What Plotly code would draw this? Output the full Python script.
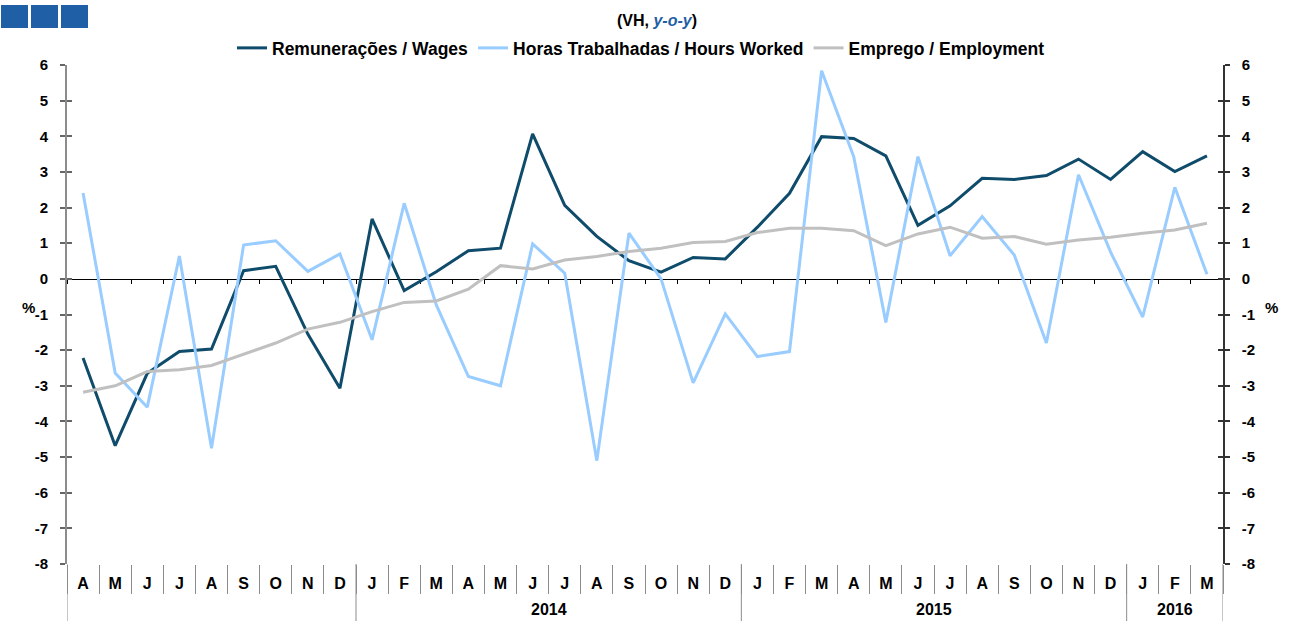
import plotly.graph_objects as go

months = ["A", "M", "J", "J", "A", "S", "O", "N", "D",
          "J", "F", "M", "A", "M", "J", "J", "A", "S", "O", "N", "D",
          "J", "F", "M", "A", "M", "J", "J", "A", "S", "O", "N", "D",
          "J", "F", "M"]
years = [2013] * 9 + [2014] * 12 + [2015] * 12 + [2016] * 3
year_labels = {2014: "2014", 2015: "2015", 2016: "2016"}

wages = [-2.22, -4.68, -2.65, -2.04, -1.97, 0.23, 0.35, -1.55, -3.07,
         1.68, -0.33, 0.20, 0.79, 0.86, 4.07, 2.06, 1.19, 0.51, 0.19, 0.60, 0.56,
         1.45, 2.40, 3.99, 3.94, 3.45, 1.50, 2.05, 2.82, 2.79, 2.90, 3.36, 2.79,
         3.57, 3.01, 3.45]
hours = [2.41, -2.64, -3.60, 0.64, -4.75, 0.95, 1.07, 0.21, 0.70,
         -1.71, 2.12, -0.73, -2.74, -3.00, 0.98, 0.16, -5.10, 1.28, 0.00, -2.92, -0.98,
         -2.18, -2.04, 5.84, 3.43, -1.22, 3.43, 0.65, 1.75, 0.67, -1.80, 2.92, 0.75,
         -1.07, 2.57, 0.13]
employment = [-3.18, -3.00, -2.60, -2.55, -2.43, -2.12, -1.80, -1.41, -1.22,
              -0.92, -0.66, -0.62, -0.29, 0.37, 0.28, 0.53, 0.63, 0.77, 0.86, 1.02, 1.05,
              1.30, 1.42, 1.42, 1.35, 0.93, 1.26, 1.45, 1.14, 1.19, 0.97, 1.09, 1.17,
              1.28, 1.37, 1.56]

y_ticks = [-8, -7, -6, -5, -4, -3, -2, -1, 0, 1, 2, 3, 4, 5, 6]
y_ticktext = ["-8", "-7", "-6", "-5", "-4", "-3", "-2", "-1", "0", "1", "2", "3", "4", "5", "6"]

series_names = ["Remunerações / Wages", "Horas Trabalhadas / Hours Worked", "Emprego / Employment"]
series_colors = ["#0F4C6B", "#99CCFF", "#C0C0C0"]

W, H = 1294, 621
L, R, T, B = 67, 71, 65, 57
PW, PH = W - L - R, H - T - B
YMIN, YMAX = -8, 6

FONT = "Liberation Sans, Arial, sans-serif"

def px_x(px):
    return (px - L) / PW

def px_y(py):
    return (H - B - py) / PH

n = len(months)
idx = list(range(n))
bounds = [i - 0.5 for i in range(n + 1)]

fig = go.Figure()
for name, vals, col in zip(series_names, [wages, hours, employment], series_colors):
    fig.add_trace(go.Scatter(x=idx, y=vals, name=name, mode="lines",
                             line=dict(color=col, width=3)))

xr = [-0.5, n - 0.5]
ytickfont = dict(family=FONT, size=15, color="#000000", weight="bold")
xtickfont = dict(family=FONT, size=16, color="#000000", weight="bold")

fig.update_layout(
    width=W, height=H,
    margin=dict(l=L, r=R, t=T, b=B, autoexpand=False),
    plot_bgcolor="white", paper_bgcolor="white",
    font=dict(family=FONT, size=14, color="#000000"),
    showlegend=True,
    legend=dict(orientation="h", x=px_x(641), xanchor="center", y=px_y(48), yanchor="middle",
                font=dict(family=FONT, size=17.5, color="#000000", weight="bold"),
                itemwidth=30, tracegroupgap=0, bgcolor="rgba(0,0,0,0)"),
    xaxis=dict(range=xr, tickmode="array", tickvals=idx, ticktext=months,
               ticks="", showline=False, showgrid=False, zeroline=False,
               tickfont=xtickfont, ticklabelstandoff=8, automargin=False),
    xaxis2=dict(range=xr, overlaying="x", anchor="free",
                position=(0 - YMIN) / (YMAX - YMIN),
                tickmode="array", tickvals=bounds, showticklabels=False,
                ticks="outside", ticklen=4, tickcolor="#000000", tickwidth=1,
                showline=True, linecolor="#000000", linewidth=1,
                showgrid=False, zeroline=False, layer="below traces"),
    xaxis3=dict(range=xr, overlaying="x", anchor="y", side="bottom",
                tickmode="array", tickvals=bounds, showticklabels=False,
                ticks="outside", ticklen=29, tickcolor="#8C8C8C", tickwidth=1,
                showline=False, showgrid=False, zeroline=False),
    yaxis=dict(range=[YMIN, YMAX], tickmode="array", tickvals=y_ticks, ticktext=y_ticktext,
               showgrid=False, zeroline=False,
               showline=True, linecolor="#8C8C8C", linewidth=2,
               ticks="outside", ticklen=5, tickcolor="#666666", tickwidth=2,
               tickfont=ytickfont, ticklabelstandoff=9, automargin=False),
    yaxis2=dict(range=[YMIN, YMAX], tickmode="array", tickvals=y_ticks, ticktext=y_ticktext,
                overlaying="y", side="right",
                showgrid=False, zeroline=False,
                showline=True, linecolor="#333333", linewidth=1.5,
                ticks="outside", ticklen=5, tickcolor="#333333", tickwidth=2,
                tickfont=ytickfont, ticklabelstandoff=9, automargin=False),
    yaxis3=dict(range=[YMIN, YMAX], tickmode="array", tickvals=y_ticks, overlaying="y", side="left",
                showgrid=False, zeroline=False, showline=False, showticklabels=False,
                ticks="inside", ticklen=5, tickcolor="#666666", tickwidth=2),
    yaxis4=dict(range=[YMIN, YMAX], tickmode="array", tickvals=y_ticks, overlaying="y", side="right",
                showgrid=False, zeroline=False, showline=False, showticklabels=False,
                ticks="inside", ticklen=5, tickcolor="#333333", tickwidth=2),
)

# invisible traces to activate overlay axes
fig.add_trace(go.Scatter(x=[None], y=[None], xaxis="x2", showlegend=False, hoverinfo="skip"))
fig.add_trace(go.Scatter(x=[None], y=[None], xaxis="x3", showlegend=False, hoverinfo="skip"))
fig.add_trace(go.Scatter(x=[None], y=[None], yaxis="y2", showlegend=False, hoverinfo="skip"))
fig.add_trace(go.Scatter(x=[None], y=[None], yaxis="y3", showlegend=False, hoverinfo="skip"))
fig.add_trace(go.Scatter(x=[None], y=[None], yaxis="y4", showlegend=False, hoverinfo="skip"))

# year separators
shapes = []
seps = [bounds[0], bounds[-1]] + [i - 0.5 for i in range(1, n) if years[i] != years[i - 1]]
for s in seps:
    shapes.append(dict(type="line", xref="x", yref="paper", x0=s, x1=s,
                       y0=0, y1=px_y(H), line=dict(color="#8C8C8C", width=1)))
# blue squares top-left
for x0, x1 in [(1, 28), (31, 58), (61, 88)]:
    shapes.append(dict(type="rect", xref="paper", yref="paper",
                       x0=px_x(x0), x1=px_x(x1), y0=px_y(28), y1=px_y(5),
                       fillcolor="#1F5FA6", line=dict(width=0), layer="above"))
fig.update_layout(shapes=shapes)

annotations = []
for yr, lab in year_labels.items():
    pos = [i for i in idx if years[i] == yr]
    annotations.append(dict(x=(pos[0] + pos[-1]) / 2, y=px_y(609), xref="x", yref="paper",
                            text=lab, showarrow=False, yanchor="middle",
                            font=dict(family=FONT, size=16, color="#000000", weight="bold")))
annotations.append(dict(x=px_x(20), y=px_y(307), xref="paper", yref="paper", text="%",
                        showarrow=False, yanchor="middle",
                        font=dict(family=FONT, size=15, weight="bold")))
annotations.append(dict(x=px_x(1280), y=px_y(307), xref="paper", yref="paper", text="%",
                        showarrow=False, yanchor="middle",
                        font=dict(family=FONT, size=15, weight="bold")))
annotations.append(dict(x=px_x(657), y=px_y(20), xref="paper", yref="paper",
                        text="(VH, <i><span style='color:#1F5FA6'>y-o-y</span></i>)",
                        showarrow=False, xanchor="center", yanchor="middle",
                        font=dict(family=FONT, size=16, color="#000000", weight="bold")))
fig.update_layout(annotations=annotations)

fig.write_html("out.html", config={"displayModeBar": False},
               post_script="document.body.style.margin='0';document.body.style.overflow='hidden';")
